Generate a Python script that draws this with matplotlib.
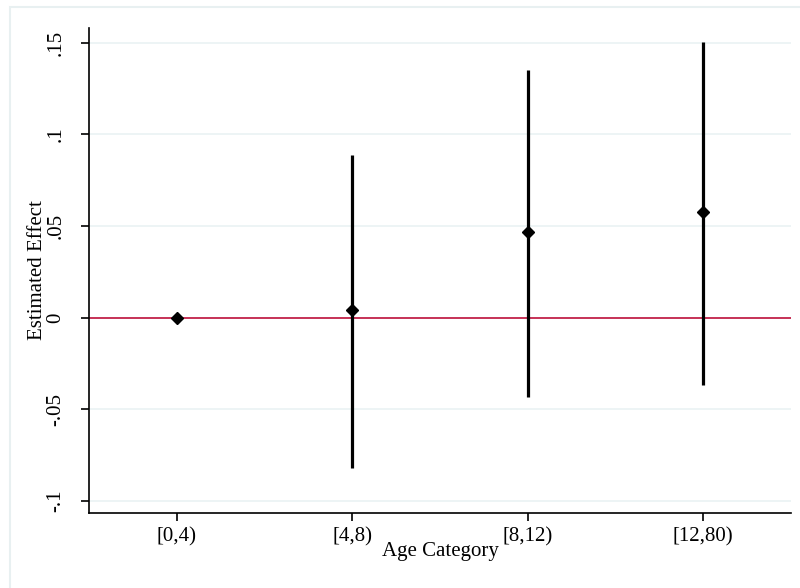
import numpy as np
import matplotlib.pyplot as plt
from matplotlib.patches import Rectangle

# age categories and estimates with 95% CI
categories = ["[0,4)", "[4,8)", "[8,12)", "[12,80)"]
estimate = [0.0, 0.0044, 0.0469, 0.0578]
ci_low = [0.0, -0.0818, -0.0431, -0.0365]
ci_high = [0.0, 0.0889, 0.1352, 0.1505]
yticks = [-0.1, -0.05, 0, 0.05, 0.1, 0.15]
ytick_labels = ["-.1", "-.05", "0", ".05", ".1", ".15"]

plt.rcParams['font.family'] = ['Liberation Serif', 'DejaVu Serif']

fig = plt.figure(figsize=(8, 5.88), dpi=100)
# light graph region outline (stata style)
fig.patches.append(Rectangle((10/800, -0.1), 1.2, 1 - 7/588 + 0.1, transform=fig.transFigure,
                             fill=False, edgecolor="#e8f0f1", linewidth=1.5))
ax = fig.add_axes([89/800, 75/588, 702/800, 485/588])

x = np.arange(1, len(categories) + 1)
ax.axhline(0, color="#c0103c", linewidth=1.2, zorder=1)
ax.vlines(x, ci_low, ci_high, color="black", linewidth=2.3, zorder=2)
ax.plot(x, estimate, "D", color="black", markersize=6.5, zorder=3)

ax.set_xlim(0.5, 4.5)
ax.set_ylim(-0.1065, 0.158)
ax.set_xticks(x)
ax.set_xticklabels(categories, fontsize=15)
ax.set_yticks(yticks)
ax.set_yticklabels(ytick_labels, fontsize=15, rotation=90, va="center")
ax.yaxis.grid(True, color="#eaf2f3", linewidth=1.2)
ax.set_axisbelow(True)

for s in ["top", "right"]:
    ax.spines[s].set_visible(False)
ax.spines["left"].set_linewidth(1.2)
ax.spines["bottom"].set_linewidth(1.2)
ax.tick_params(axis="both", length=6, width=1.2)
ax.tick_params(axis="x", pad=4)
ax.tick_params(axis="y", pad=11)

ax.set_xlabel("Age Category", fontsize=15)
ax.xaxis.set_label_coords(0.5, -0.06)
ax.set_ylabel("Estimated Effect", fontsize=15)
ax.yaxis.set_label_coords(-0.06, 0.5)

plt.savefig("out.png", dpi=100)
